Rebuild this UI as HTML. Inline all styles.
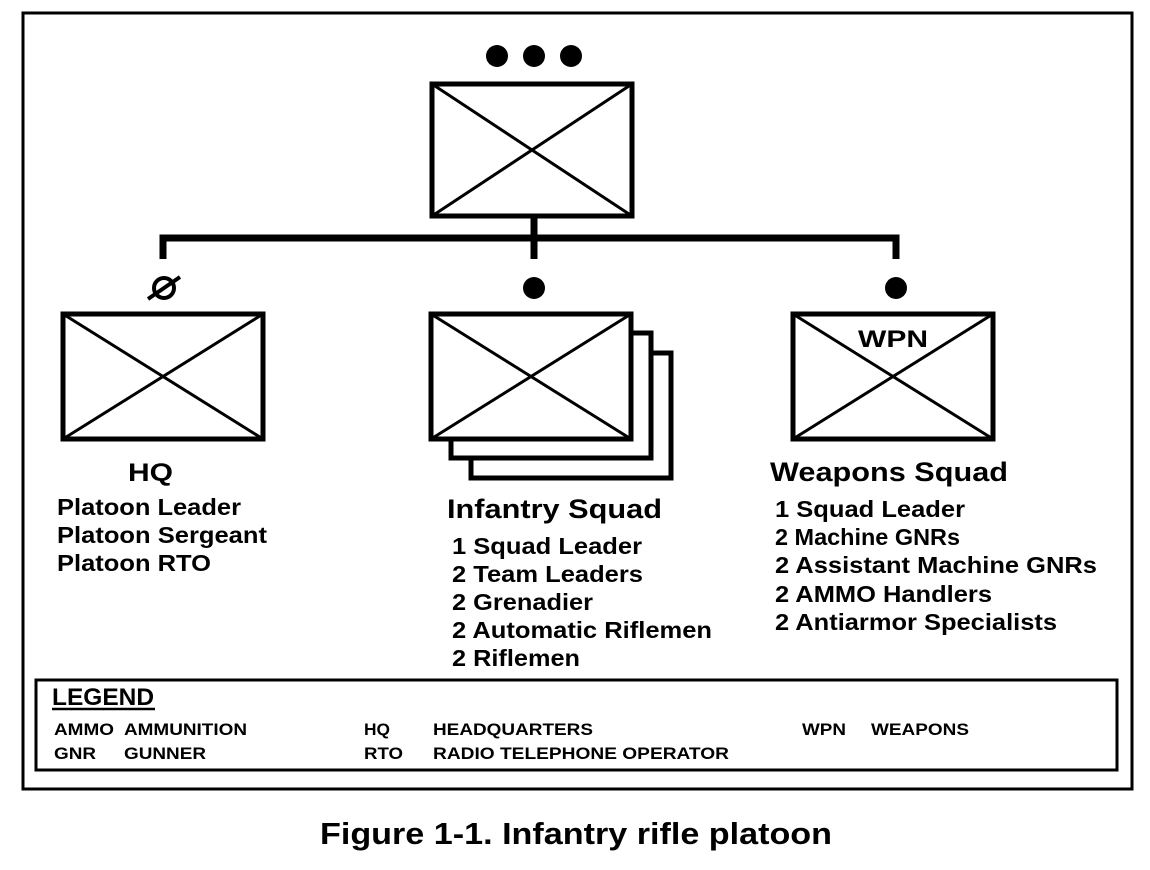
<!DOCTYPE html>
<html><head><meta charset="utf-8"><style>
html,body{margin:0;padding:0;background:#fff;}
svg{display:block;}
text{font-family:"Liberation Sans",Arial,sans-serif;font-weight:bold;fill:#000;}
</style></head><body>
<svg width="1150" height="870" viewBox="0 0 1150 870" xmlns="http://www.w3.org/2000/svg">
<rect x="23" y="13" width="1109" height="776" fill="none" stroke="#000" stroke-width="3"/>
<circle cx="497" cy="56" r="11"/><circle cx="534" cy="56" r="11"/><circle cx="571" cy="56" r="11"/>
<g fill="none" stroke="#000" stroke-width="5">
<rect x="432" y="84" width="200" height="132"/>
<line x1="432" y1="84" x2="632" y2="216" stroke-width="3"/><line x1="632" y1="84" x2="432" y2="216" stroke-width="3"/>
</g>
<g stroke="#000" stroke-width="7" fill="none">
<line x1="534" y1="216" x2="534" y2="259"/>
<polyline points="163,259 163,238 896,238 896,259"/>
</g>
<circle cx="164" cy="288" r="10" fill="none" stroke="#000" stroke-width="4"/>
<line x1="148" y1="299" x2="180" y2="277" stroke="#000" stroke-width="4"/>
<circle cx="534" cy="288" r="11"/><circle cx="896" cy="288" r="11"/>
<g fill="#fff" stroke="#000" stroke-width="5">
<rect x="63" y="314" width="200" height="125"/>
<line x1="63" y1="314" x2="263" y2="439" stroke-width="3"/><line x1="263" y1="314" x2="63" y2="439" stroke-width="3"/>
<rect x="471" y="353" width="200" height="125"/>
<rect x="451" y="333" width="200" height="125"/>
<rect x="431" y="314" width="200" height="125"/>
<line x1="431" y1="314" x2="631" y2="439" stroke-width="3"/><line x1="631" y1="314" x2="431" y2="439" stroke-width="3"/>
<rect x="793" y="314" width="200" height="125"/>
<line x1="793" y1="314" x2="993" y2="439" stroke-width="3"/><line x1="993" y1="314" x2="793" y2="439" stroke-width="3"/>
</g>
<rect x="856" y="322" width="74" height="30" fill="#fff"/>
<text x="858" y="347" font-size="24" textLength="70" lengthAdjust="spacingAndGlyphs">WPN</text>
<text x="128" y="481" font-size="25" textLength="45" lengthAdjust="spacingAndGlyphs">HQ</text>
<g font-size="23">
<text x="57" y="515" textLength="184" lengthAdjust="spacingAndGlyphs">Platoon Leader</text>
<text x="57" y="543" textLength="210" lengthAdjust="spacingAndGlyphs">Platoon Sergeant</text>
<text x="57" y="571" textLength="154" lengthAdjust="spacingAndGlyphs">Platoon RTO</text>
</g>
<text x="447" y="518" font-size="27" textLength="215" lengthAdjust="spacingAndGlyphs">Infantry Squad</text>
<g font-size="23">
<text x="452" y="554" textLength="190" lengthAdjust="spacingAndGlyphs">1 Squad Leader</text>
<text x="452" y="582" textLength="191" lengthAdjust="spacingAndGlyphs">2 Team Leaders</text>
<text x="452" y="610" textLength="141" lengthAdjust="spacingAndGlyphs">2 Grenadier</text>
<text x="452" y="638" textLength="260" lengthAdjust="spacingAndGlyphs">2 Automatic Riflemen</text>
<text x="452" y="666" textLength="128" lengthAdjust="spacingAndGlyphs">2 Riflemen</text>
</g>
<text x="770" y="481" font-size="27" textLength="238" lengthAdjust="spacingAndGlyphs">Weapons Squad</text>
<g font-size="23">
<text x="775" y="517" textLength="190" lengthAdjust="spacingAndGlyphs">1 Squad Leader</text>
<text x="775" y="545" textLength="185" lengthAdjust="spacingAndGlyphs">2 Machine GNRs</text>
<text x="775" y="573" textLength="322" lengthAdjust="spacingAndGlyphs">2 Assistant Machine GNRs</text>
<text x="775" y="602" textLength="217" lengthAdjust="spacingAndGlyphs">2 AMMO Handlers</text>
<text x="775" y="630" textLength="282" lengthAdjust="spacingAndGlyphs">2 Antiarmor Specialists</text>
</g>
<rect x="36" y="680" width="1081" height="90" fill="none" stroke="#000" stroke-width="3"/>
<text x="52" y="705" font-size="24" textLength="102" lengthAdjust="spacingAndGlyphs">LEGEND</text>
<line x1="52" y1="709" x2="155" y2="709" stroke="#000" stroke-width="2.5"/>
<g font-size="17">
<text x="54" y="735" textLength="60" lengthAdjust="spacingAndGlyphs">AMMO</text>
<text x="124" y="735" textLength="123" lengthAdjust="spacingAndGlyphs">AMMUNITION</text>
<text x="364" y="735" textLength="26" lengthAdjust="spacingAndGlyphs">HQ</text>
<text x="433" y="735" textLength="160" lengthAdjust="spacingAndGlyphs">HEADQUARTERS</text>
<text x="802" y="735" textLength="44" lengthAdjust="spacingAndGlyphs">WPN</text>
<text x="871" y="735" textLength="98" lengthAdjust="spacingAndGlyphs">WEAPONS</text>
<text x="54" y="759" textLength="42" lengthAdjust="spacingAndGlyphs">GNR</text>
<text x="124" y="759" textLength="82" lengthAdjust="spacingAndGlyphs">GUNNER</text>
<text x="364" y="759" textLength="39" lengthAdjust="spacingAndGlyphs">RTO</text>
<text x="433" y="759" textLength="296" lengthAdjust="spacingAndGlyphs">RADIO TELEPHONE OPERATOR</text>
</g>
<text x="320" y="844" font-size="31" textLength="512" lengthAdjust="spacingAndGlyphs">Figure 1-1. Infantry rifle platoon</text>
</svg>
</body></html>
